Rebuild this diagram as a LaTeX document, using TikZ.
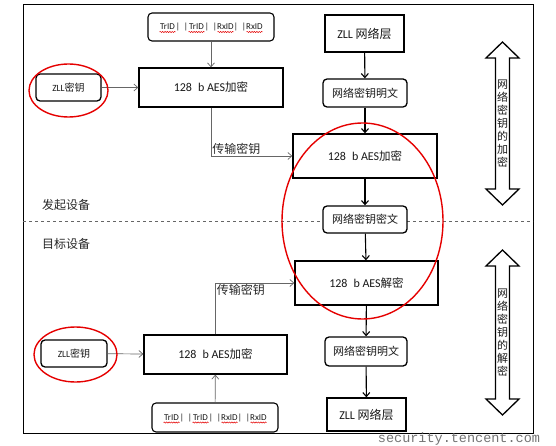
\documentclass[tikz,border=0pt]{standalone}
\usepackage{fontspec}
\setmainfont{Carlito}
\newfontfamily\cjk{Noto Sans CJK SC}
\newfontfamily\wmfont{Liberation Mono}
\usetikzlibrary{arrows.meta,decorations.pathmorphing}
\newcommand\idw[1]{\makebox[17pt]{#1}}
\newcommand\idbar{\makebox[12pt]{|\hfill|}}
\newcommand\ids{\idw{TrID}\idbar\idw{TrID}\idbar\idw{RxID}\idbar\idw{RxID}}

\begin{document}
\begin{tikzpicture}[x=1pt, y=-1pt,
  box/.style={draw, line width=1.3pt, fill=white, inner sep=0pt, text=black!90, font=\fontsize{12}{14}\selectfont},
  rbox/.style={box, rounded corners=4pt},
  idbox/.style={rbox, line width=1.1pt, font=\fontsize{9}{10}\selectfont},
  garrow/.style={-{Straight Barb[length=4pt,width=7pt]}, black!60, line width=0.7pt},
  barrow/.style={-{Straight Barb[length=4pt,width=7pt]}, line width=1.1pt},
  ring/.style={draw=red!90!black, line width=1.4pt},
  squiggle/.style={red!90!black, line width=0.5pt, decorate, decoration={snake, amplitude=0.6pt, segment length=2.4pt}},
  sidelabel/.style={font=\cjk\fontsize{12}{14}\selectfont, text=black!85},
  keylabel/.style={font=\cjk\fontsize{12}{14}\selectfont, text=black!85, inner sep=1pt}
]
\useasboundingbox (0,0) rectangle (556,446);
\draw[line width=0.9pt] (23,4) rectangle (533,433);
\draw[dashed, black!60, line width=0.8pt] (23,221) -- (533,221);

% initiator
\node[idbox, minimum width=126, minimum height=28] (idtop) at (211,27) {\ids};
\node[rbox, minimum width=65, minimum height=27] (zlltop) at (68.5,87.5) {{\fontsize{9.5}{11}\selectfont ZLL}{\cjk\fontsize{10}{12}\selectfont 密钥}};
\node[box, minimum width=144, minimum height=39] (enctop) at (211,87.5) {128\enspace b AES{\cjk\fontsize{11.5}{13}\selectfont 加密}};
\node[box, minimum width=79, minimum height=37] (layertop) at (364.5,33.5) {ZLL {\cjk 网络层}};
\node[rbox, minimum width=84, minimum height=28] (plaintop) at (365,93) {\cjk\fontsize{11}{13}\selectfont 网络密钥明文};
\node[box, minimum width=144, minimum height=44] (encnet) at (365,156) {128\enspace b AES{\cjk\fontsize{11.5}{13}\selectfont 加密}};
\node[rbox, minimum width=84, minimum height=27] (cipher) at (365,219.5) {\cjk\fontsize{11}{13}\selectfont 网络密钥密文};
\node[sidelabel] (sender) at (66,205) {发起设备};

% target
\node[sidelabel] (receiver) at (66,244) {目标设备};
\node[box, minimum width=143, minimum height=44] (decnet) at (366.5,283) {128\enspace b AES{\cjk\fontsize{11.5}{13}\selectfont 解密}};
\node[rbox, minimum width=82, minimum height=29] (plainbot) at (366,351.5) {\cjk\fontsize{11}{13}\selectfont 网络密钥明文};
\node[box, minimum width=79, minimum height=33] (layerbot) at (366.5,414.5) {ZLL {\cjk 网络层}};
\node[box, minimum width=143, minimum height=39] (encbot) at (215.5,354.5) {128\enspace b AES{\cjk\fontsize{11.5}{13}\selectfont 加密}};
\node[rbox, minimum width=66, minimum height=27] (zllbot) at (74,353.5) {{\fontsize{9.5}{11}\selectfont ZLL}{\cjk\fontsize{10}{12}\selectfont 密钥}};
\node[idbox, minimum width=126, minimum height=29] (idbot) at (215,417.5) {\ids};

% spell-check marks under the ids
\foreach \n in {idtop, idbot}
  \foreach \c in {-43.5,-14.5,14.5,43.5}
    \draw[squiggle] ([xshift=\c pt-8pt, yshift=-5pt]\n.center) -- ([xshift=\c pt+8pt, yshift=-5pt]\n.center);

% connectors
\draw[garrow] (idtop) -- (enctop);
\draw[garrow] (zlltop) -- (enctop);
\draw[garrow] (enctop.south) |- node[pos=0.5, keylabel, anchor=south west] (keytop) {传输密钥} (encnet.west);
\draw[garrow] (zllbot) -- (encbot);
\draw[garrow] (idbot) -- (encbot);
\draw[garrow] (encbot.north) |- node[pos=0.5, keylabel, anchor=north west] (keybot) {传输密钥} (decnet.west);
\foreach \a/\b in {layertop/plaintop, plaintop/encnet, encnet/cipher, cipher/decnet, decnet/plainbot, plainbot/layerbot}
  \draw[barrow] (\a) -- (\b);

% side arrows
\foreach \t/\u/\w in {42/205/加, 250/415/解}{
  \draw[line width=1.3pt, fill=white] (502.5,\t) -- (519,\t+16) -- (509.5,\t+16) -- (509.5,\u-16) -- (519,\u-16)
    -- (502.5,\u) -- (486,\u-16) -- (495.5,\u-16) -- (495.5,\t+16) -- (486,\t+16) -- cycle;
  \node[font=\cjk\fontsize{11}{13}\selectfont, align=center, inner sep=0pt, text=black!90] at (502.5,{(\t+\u)/2}) {网\\络\\密\\钥\\的\\\w\\密};
}

% highlights
\draw[ring] (68.5,90.5) ellipse (39.5 and 26.5);
\draw[ring] (75.5,354.5) ellipse (41.5 and 27.5);
\draw[ring] (362.5,221) ellipse (80.5 and 98);

\node[font=\wmfont\fontsize{13.5}{14}\selectfont, text=black!55, inner sep=0pt] (mark) at (459,439) {security.tencent.com};
\end{tikzpicture}
\end{document}
